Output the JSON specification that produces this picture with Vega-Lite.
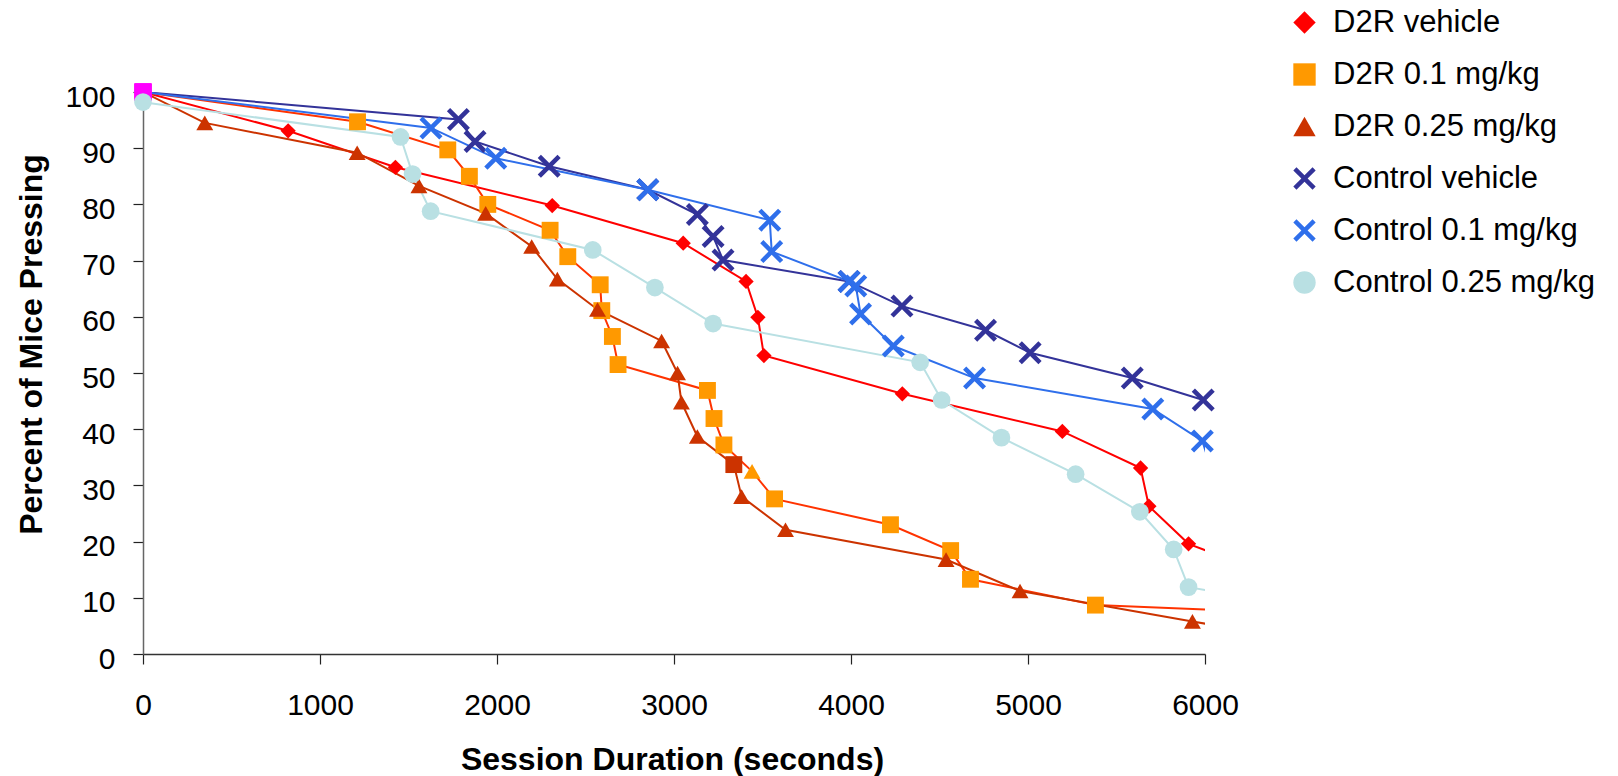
{
  "$schema": "https://vega.github.io/schema/vega-lite/v6.json",
  "width": 1062,
  "height": 562,
  "autosize": {"type": "none"},
  "padding": {"left": 143, "top": 92, "right": 413, "bottom": 122},
  "background": "white",
  "config": {
    "view": {"stroke": null},
    "font": "Liberation Sans",
    "legend": {
      "orient": "none", "legendX": 1146, "legendY": -85, "direction": "vertical",
      "labelFont": "Liberation Sans", "labelFontSize": 31, "labelColor": "#000000", "labelLimit": 400,
      "symbolSize": 500, "symbolStrokeWidth": 0, "symbolOpacity": 1,
      "rowPadding": 20, "labelOffset": 13, "padding": 0
    }
  },
  "data": {"values": [
    {"series": "D2R vehicle", "sec": 0, "pct": 100, "marker": "start"},
    {"series": "D2R vehicle", "sec": 820, "pct": 93.1, "marker": "D2R vehicle"},
    {"series": "D2R vehicle", "sec": 1426, "pct": 86.6, "marker": "D2R vehicle"},
    {"series": "D2R vehicle", "sec": 2312, "pct": 79.8, "marker": "D2R vehicle"},
    {"series": "D2R vehicle", "sec": 3052, "pct": 73.1, "marker": "D2R vehicle"},
    {"series": "D2R vehicle", "sec": 3407, "pct": 66.3, "marker": "D2R vehicle"},
    {"series": "D2R vehicle", "sec": 3474, "pct": 59.9, "marker": "D2R vehicle"},
    {"series": "D2R vehicle", "sec": 3508, "pct": 53.1, "marker": "D2R vehicle"},
    {"series": "D2R vehicle", "sec": 4290, "pct": 46.3, "marker": "D2R vehicle"},
    {"series": "D2R vehicle", "sec": 5194, "pct": 39.6, "marker": "D2R vehicle"},
    {"series": "D2R vehicle", "sec": 5636, "pct": 33.1, "marker": "D2R vehicle"},
    {"series": "D2R vehicle", "sec": 5683, "pct": 26.3, "marker": "D2R vehicle"},
    {"series": "D2R vehicle", "sec": 5907, "pct": 19.6, "marker": "D2R vehicle"},
    {"series": "D2R vehicle", "sec": 6200, "pct": 16.1, "marker": "none"},

    {"series": "D2R 0.1 mg/kg", "sec": 0, "pct": 100, "marker": "start"},
    {"series": "D2R 0.1 mg/kg", "sec": 1212, "pct": 94.7, "marker": "D2R 0.1 mg/kg"},
    {"series": "D2R 0.1 mg/kg", "sec": 1722, "pct": 89.7, "marker": "D2R 0.1 mg/kg"},
    {"series": "D2R 0.1 mg/kg", "sec": 1844, "pct": 85.0, "marker": "D2R 0.1 mg/kg"},
    {"series": "D2R 0.1 mg/kg", "sec": 1948, "pct": 80.0, "marker": "D2R 0.1 mg/kg"},
    {"series": "D2R 0.1 mg/kg", "sec": 2300, "pct": 75.4, "marker": "D2R 0.1 mg/kg"},
    {"series": "D2R 0.1 mg/kg", "sec": 2400, "pct": 70.7, "marker": "D2R 0.1 mg/kg"},
    {"series": "D2R 0.1 mg/kg", "sec": 2583, "pct": 65.7, "marker": "D2R 0.1 mg/kg"},
    {"series": "D2R 0.1 mg/kg", "sec": 2592, "pct": 61.1, "marker": "D2R 0.1 mg/kg"},
    {"series": "D2R 0.1 mg/kg", "sec": 2652, "pct": 56.5, "marker": "D2R 0.1 mg/kg"},
    {"series": "D2R 0.1 mg/kg", "sec": 2684, "pct": 51.5, "marker": "D2R 0.1 mg/kg"},
    {"series": "D2R 0.1 mg/kg", "sec": 3189, "pct": 46.9, "marker": "D2R 0.1 mg/kg"},
    {"series": "D2R 0.1 mg/kg", "sec": 3226, "pct": 41.9, "marker": "D2R 0.1 mg/kg"},
    {"series": "D2R 0.1 mg/kg", "sec": 3282, "pct": 37.2, "marker": "D2R 0.1 mg/kg"},
    {"series": "D2R 0.1 mg/kg", "sec": 3441, "pct": 32.5, "marker": "D2R 0.1 mg/kg (triangle)"},
    {"series": "D2R 0.1 mg/kg", "sec": 3568, "pct": 27.6, "marker": "D2R 0.1 mg/kg"},
    {"series": "D2R 0.1 mg/kg", "sec": 4223, "pct": 23.0, "marker": "D2R 0.1 mg/kg"},
    {"series": "D2R 0.1 mg/kg", "sec": 4563, "pct": 18.4, "marker": "D2R 0.1 mg/kg"},
    {"series": "D2R 0.1 mg/kg", "sec": 4675, "pct": 13.3, "marker": "D2R 0.1 mg/kg"},
    {"series": "D2R 0.1 mg/kg", "sec": 5381, "pct": 8.7, "marker": "D2R 0.1 mg/kg"},
    {"series": "D2R 0.1 mg/kg", "sec": 6500, "pct": 7.3, "marker": "none"},

    {"series": "D2R 0.25 mg/kg", "sec": 0, "pct": 100, "marker": "start"},
    {"series": "D2R 0.25 mg/kg", "sec": 349, "pct": 94.5, "marker": "D2R 0.25 mg/kg"},
    {"series": "D2R 0.25 mg/kg", "sec": 1210, "pct": 89.2, "marker": "D2R 0.25 mg/kg"},
    {"series": "D2R 0.25 mg/kg", "sec": 1559, "pct": 83.3, "marker": "D2R 0.25 mg/kg"},
    {"series": "D2R 0.25 mg/kg", "sec": 1936, "pct": 78.4, "marker": "D2R 0.25 mg/kg"},
    {"series": "D2R 0.25 mg/kg", "sec": 2196, "pct": 72.5, "marker": "D2R 0.25 mg/kg"},
    {"series": "D2R 0.25 mg/kg", "sec": 2341, "pct": 66.7, "marker": "D2R 0.25 mg/kg"},
    {"series": "D2R 0.25 mg/kg", "sec": 2568, "pct": 61.3, "marker": "D2R 0.25 mg/kg"},
    {"series": "D2R 0.25 mg/kg", "sec": 2930, "pct": 55.7, "marker": "D2R 0.25 mg/kg"},
    {"series": "D2R 0.25 mg/kg", "sec": 3020, "pct": 50.0, "marker": "D2R 0.25 mg/kg"},
    {"series": "D2R 0.25 mg/kg", "sec": 3042, "pct": 44.8, "marker": "D2R 0.25 mg/kg"},
    {"series": "D2R 0.25 mg/kg", "sec": 3132, "pct": 38.7, "marker": "D2R 0.25 mg/kg"},
    {"series": "D2R 0.25 mg/kg", "sec": 3338, "pct": 33.7, "marker": "D2R 0.25 mg/kg (square)"},
    {"series": "D2R 0.25 mg/kg", "sec": 3382, "pct": 28.0, "marker": "D2R 0.25 mg/kg"},
    {"series": "D2R 0.25 mg/kg", "sec": 3630, "pct": 22.1, "marker": "D2R 0.25 mg/kg"},
    {"series": "D2R 0.25 mg/kg", "sec": 4537, "pct": 16.8, "marker": "D2R 0.25 mg/kg"},
    {"series": "D2R 0.25 mg/kg", "sec": 4955, "pct": 11.2, "marker": "D2R 0.25 mg/kg"},
    {"series": "D2R 0.25 mg/kg", "sec": 5929, "pct": 5.8, "marker": "D2R 0.25 mg/kg"},
    {"series": "D2R 0.25 mg/kg", "sec": 6200, "pct": 4.3, "marker": "none"},

    {"series": "Control vehicle", "sec": 0, "pct": 100, "marker": "start"},
    {"series": "Control vehicle", "sec": 1782, "pct": 95.1, "marker": "Control vehicle"},
    {"series": "Control vehicle", "sec": 1876, "pct": 91.2, "marker": "Control vehicle"},
    {"series": "Control vehicle", "sec": 2295, "pct": 86.8, "marker": "Control vehicle"},
    {"series": "Control vehicle", "sec": 2852, "pct": 82.6, "marker": "Control vehicle"},
    {"series": "Control vehicle", "sec": 3132, "pct": 78.2, "marker": "Control vehicle"},
    {"series": "Control vehicle", "sec": 3221, "pct": 74.3, "marker": "Control vehicle"},
    {"series": "Control vehicle", "sec": 3277, "pct": 70.1, "marker": "Control vehicle"},
    {"series": "Control vehicle", "sec": 3989, "pct": 66.3, "marker": "Control vehicle"},
    {"series": "Control vehicle", "sec": 4288, "pct": 61.9, "marker": "Control vehicle"},
    {"series": "Control vehicle", "sec": 4760, "pct": 57.6, "marker": "Control vehicle"},
    {"series": "Control vehicle", "sec": 5012, "pct": 53.6, "marker": "Control vehicle"},
    {"series": "Control vehicle", "sec": 5589, "pct": 49.1, "marker": "Control vehicle"},
    {"series": "Control vehicle", "sec": 5990, "pct": 45.2, "marker": "Control vehicle"},

    {"series": "Control 0.1 mg/kg", "sec": 0, "pct": 100, "marker": "start"},
    {"series": "Control 0.1 mg/kg", "sec": 1627, "pct": 93.6, "marker": "Control 0.1 mg/kg"},
    {"series": "Control 0.1 mg/kg", "sec": 1993, "pct": 88.2, "marker": "Control 0.1 mg/kg"},
    {"series": "Control 0.1 mg/kg", "sec": 2852, "pct": 82.6, "marker": "Control 0.1 mg/kg"},
    {"series": "Control 0.1 mg/kg", "sec": 3541, "pct": 77.2, "marker": "Control 0.1 mg/kg"},
    {"series": "Control 0.1 mg/kg", "sec": 3552, "pct": 71.6, "marker": "Control 0.1 mg/kg"},
    {"series": "Control 0.1 mg/kg", "sec": 3989, "pct": 66.3, "marker": "Control 0.1 mg/kg"},
    {"series": "Control 0.1 mg/kg", "sec": 4027, "pct": 65.5, "marker": "Control 0.1 mg/kg"},
    {"series": "Control 0.1 mg/kg", "sec": 4054, "pct": 60.5, "marker": "Control 0.1 mg/kg"},
    {"series": "Control 0.1 mg/kg", "sec": 4239, "pct": 54.8, "marker": "Control 0.1 mg/kg"},
    {"series": "Control 0.1 mg/kg", "sec": 4698, "pct": 49.1, "marker": "Control 0.1 mg/kg"},
    {"series": "Control 0.1 mg/kg", "sec": 5705, "pct": 43.6, "marker": "Control 0.1 mg/kg"},
    {"series": "Control 0.1 mg/kg", "sec": 5985, "pct": 37.9, "marker": "Control 0.1 mg/kg"},
    {"series": "Control 0.1 mg/kg", "sec": 6100, "pct": 26.5, "marker": "none"},

    {"series": "Control 0.25 mg/kg", "sec": 0, "pct": 98.2, "marker": "Control 0.25 mg/kg"},
    {"series": "Control 0.25 mg/kg", "sec": 1455, "pct": 92.0, "marker": "Control 0.25 mg/kg"},
    {"series": "Control 0.25 mg/kg", "sec": 1523, "pct": 85.4, "marker": "Control 0.25 mg/kg"},
    {"series": "Control 0.25 mg/kg", "sec": 1625, "pct": 78.8, "marker": "Control 0.25 mg/kg"},
    {"series": "Control 0.25 mg/kg", "sec": 2541, "pct": 71.9, "marker": "Control 0.25 mg/kg"},
    {"series": "Control 0.25 mg/kg", "sec": 2892, "pct": 65.2, "marker": "Control 0.25 mg/kg"},
    {"series": "Control 0.25 mg/kg", "sec": 3221, "pct": 58.8, "marker": "Control 0.25 mg/kg"},
    {"series": "Control 0.25 mg/kg", "sec": 4391, "pct": 51.9, "marker": "Control 0.25 mg/kg"},
    {"series": "Control 0.25 mg/kg", "sec": 4512, "pct": 45.2, "marker": "Control 0.25 mg/kg"},
    {"series": "Control 0.25 mg/kg", "sec": 4850, "pct": 38.5, "marker": "Control 0.25 mg/kg"},
    {"series": "Control 0.25 mg/kg", "sec": 5269, "pct": 32.0, "marker": "Control 0.25 mg/kg"},
    {"series": "Control 0.25 mg/kg", "sec": 5632, "pct": 25.3, "marker": "Control 0.25 mg/kg"},
    {"series": "Control 0.25 mg/kg", "sec": 5823, "pct": 18.6, "marker": "Control 0.25 mg/kg"},
    {"series": "Control 0.25 mg/kg", "sec": 5907, "pct": 11.9, "marker": "Control 0.25 mg/kg"},
    {"series": "Control 0.25 mg/kg", "sec": 6300, "pct": 9.7, "marker": "none"}
  ]},
  "encoding": {
    "x": {
      "field": "sec", "type": "quantitative",
      "scale": {"domain": [0, 6000], "nice": false, "zero": true},
      "axis": {
        "title": "Session Duration (seconds)",
        "values": [0, 1000, 2000, 3000, 4000, 5000, 6000],
        "format": "d", "grid": false,
        "labelFont": "Liberation Sans", "labelFontSize": 30, "labelColor": "#000000",
        "labelBaseline": "alphabetic", "labelPadding": 50, "labelFlush": false, "labelOverlap": false,
        "tickSize": 10, "tickColor": "#222222", "tickWidth": 1.2,
        "domainColor": "#333333", "domainWidth": 1.5,
        "titleFont": "Liberation Sans", "titleFontSize": 32, "titleFontWeight": "bold", "titleColor": "#000000",
        "titleBaseline": "alphabetic", "titleAlign": "center", "titleX": 529, "titleY": 115
      }
    },
    "y": {
      "field": "pct", "type": "quantitative",
      "scale": {"domain": [0, 100], "nice": false},
      "axis": {
        "title": "Percent of Mice Pressing",
        "values": [0, 10, 20, 30, 40, 50, 60, 70, 80, 90, 100],
        "format": "d", "grid": false,
        "labelFont": "Liberation Sans", "labelFontSize": 30, "labelColor": "#000000",
        "labelBaseline": "alphabetic", "labelOffset": 14, "labelPadding": 18, "labelFlush": false, "labelOverlap": false,
        "tickSize": 10, "tickColor": "#222222", "tickWidth": 1.2,
        "domainColor": "#666666", "domainWidth": 1.5,
        "titleFont": "Liberation Sans", "titleFontSize": 32, "titleFontWeight": "bold", "titleColor": "#000000",
        "titleAngle": 270, "titleBaseline": "alphabetic", "titleAlign": "center", "titleX": -102, "titleY": 252
      }
    }
  },
  "layer": [
    {
      "mark": {"type": "line", "clip": true, "strokeWidth": 2},
      "encoding": {
        "stroke": {
          "field": "series", "type": "nominal",
          "scale": {
            "domain": ["D2R vehicle", "D2R 0.1 mg/kg", "D2R 0.25 mg/kg", "Control vehicle", "Control 0.1 mg/kg", "Control 0.25 mg/kg"],
            "range": ["#FF0000", "#FF3300", "#CC3300", "#333399", "#2F6FEB", "#B9E0E3"]
          },
          "legend": null
        }
      }
    },
    {
      "transform": [{"filter": {"field": "marker", "oneOf": ["D2R vehicle"]}}],
      "mark": {"type": "point", "filled": true, "opacity": 1, "strokeWidth": 0, "size": 234},
      "encoding": {
        "color": {
          "field": "marker", "type": "nominal",
          "scale": {
            "domain": ["D2R vehicle", "D2R 0.1 mg/kg", "D2R 0.25 mg/kg", "Control vehicle", "Control 0.1 mg/kg", "Control 0.25 mg/kg", "D2R 0.25 mg/kg (square)", "D2R 0.1 mg/kg (triangle)", "start"],
            "range": ["#FF0000", "#FF9900", "#CC3300", "#333399", "#2F6FEB", "#B9E0E3", "#CC3300", "#FF9900", "#FF00FF"]
          },
          "legend": {"title": null, "values": ["D2R vehicle", "D2R 0.1 mg/kg", "D2R 0.25 mg/kg", "Control vehicle", "Control 0.1 mg/kg", "Control 0.25 mg/kg"]}
        },
        "shape": {
          "field": "marker", "type": "nominal",
          "scale": {
            "domain": ["D2R vehicle", "D2R 0.1 mg/kg", "D2R 0.25 mg/kg", "Control vehicle", "Control 0.1 mg/kg", "Control 0.25 mg/kg", "D2R 0.25 mg/kg (square)", "D2R 0.1 mg/kg (triangle)", "start"],
            "range": ["diamond", "square", "triangle-up",
              "M-1,-0.72L-0.72,-1L0,-0.28L0.72,-1L1,-0.72L0.28,0L1,0.72L0.72,1L0,0.28L-0.72,1L-1,0.72L-0.28,0Z",
              "M-1,-0.72L-0.72,-1L0,-0.28L0.72,-1L1,-0.72L0.28,0L1,0.72L0.72,1L0,0.28L-0.72,1L-1,0.72L-0.28,0Z",
              "circle", "square", "triangle-up", "square"]
          },
          "legend": {"title": null, "values": ["D2R vehicle", "D2R 0.1 mg/kg", "D2R 0.25 mg/kg", "Control vehicle", "Control 0.1 mg/kg", "Control 0.25 mg/kg"]}
        }
      }
    },
    {
      "transform": [{"filter": {"field": "marker", "oneOf": ["start", "D2R 0.1 mg/kg", "D2R 0.25 mg/kg", "D2R 0.25 mg/kg (square)", "D2R 0.1 mg/kg (triangle)"]}}],
      "mark": {"type": "point", "filled": true, "opacity": 1, "strokeWidth": 0, "size": 285},
      "encoding": {
        "color": {"field": "marker", "type": "nominal", "legend": {"title": null, "values": ["D2R vehicle", "D2R 0.1 mg/kg", "D2R 0.25 mg/kg", "Control vehicle", "Control 0.1 mg/kg", "Control 0.25 mg/kg"]}},
        "shape": {"field": "marker", "type": "nominal", "legend": {"title": null, "values": ["D2R vehicle", "D2R 0.1 mg/kg", "D2R 0.25 mg/kg", "Control vehicle", "Control 0.1 mg/kg", "Control 0.25 mg/kg"]}}
      }
    },
    {
      "transform": [{"filter": {"field": "marker", "oneOf": ["Control vehicle", "Control 0.1 mg/kg"]}}],
      "mark": {"type": "point", "filled": true, "opacity": 1, "strokeWidth": 0, "size": 529},
      "encoding": {
        "color": {"field": "marker", "type": "nominal", "legend": {"title": null, "values": ["D2R vehicle", "D2R 0.1 mg/kg", "D2R 0.25 mg/kg", "Control vehicle", "Control 0.1 mg/kg", "Control 0.25 mg/kg"]}},
        "shape": {"field": "marker", "type": "nominal", "legend": {"title": null, "values": ["D2R vehicle", "D2R 0.1 mg/kg", "D2R 0.25 mg/kg", "Control vehicle", "Control 0.1 mg/kg", "Control 0.25 mg/kg"]}}
      }
    },
    {
      "transform": [{"filter": {"field": "marker", "oneOf": ["Control 0.25 mg/kg"]}}],
      "mark": {"type": "point", "filled": true, "opacity": 1, "strokeWidth": 0, "size": 313},
      "encoding": {
        "color": {"field": "marker", "type": "nominal", "legend": {"title": null, "values": ["D2R vehicle", "D2R 0.1 mg/kg", "D2R 0.25 mg/kg", "Control vehicle", "Control 0.1 mg/kg", "Control 0.25 mg/kg"]}},
        "shape": {"field": "marker", "type": "nominal", "legend": {"title": null, "values": ["D2R vehicle", "D2R 0.1 mg/kg", "D2R 0.25 mg/kg", "Control vehicle", "Control 0.1 mg/kg", "Control 0.25 mg/kg"]}}
      }
    }
  ]
}
